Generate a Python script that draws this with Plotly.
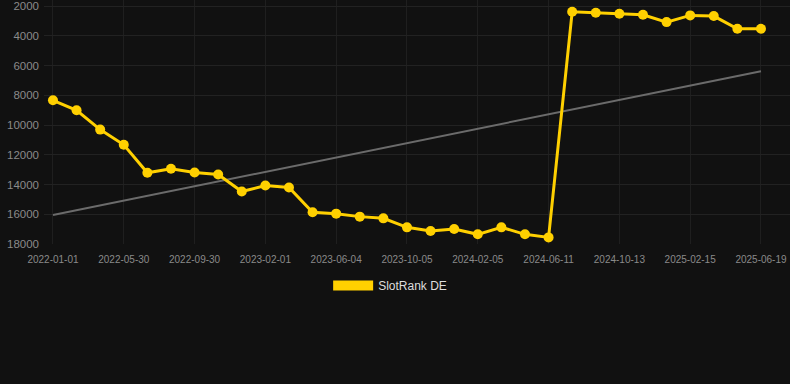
import plotly.graph_objects as go

# Data
idx = list(range(31))
rank_de = [8340, 9010, 10310, 11330, 13210, 12940, 13190, 13330, 14475, 14070,
           14200, 15870, 15960, 16160, 16275, 16880, 17125, 16990, 17350, 16880,
           17350, 17555, 2385, 2450, 2520, 2585, 3080, 2630, 2675, 3530, 3530]
trend_x = [0, 30]
trend_y = [16050, 6380]
tick_pos = [0, 3, 6, 9, 12, 15, 18, 21, 24, 27, 30]
tick_labels = ["2022-01-01", "2022-05-30", "2022-09-30", "2023-02-01", "2023-06-04",
               "2023-10-05", "2024-02-05", "2024-06-11", "2024-10-13", "2025-02-15",
               "2025-06-19"]
y_ticks = [2000, 4000, 6000, 8000, 10000, 12000, 14000, 16000, 18000]

GOLD = "#FFD000"
FONT = "Liberation Sans, Arial, sans-serif"

fig = go.Figure()
fig.add_trace(go.Scatter(x=trend_x, y=trend_y, mode="lines",
                         line=dict(color="#6b6b6b", width=2),
                         showlegend=False, hoverinfo="skip"))
fig.add_trace(go.Scatter(x=idx, y=rank_de, mode="lines+markers",
                         line=dict(color=GOLD, width=3),
                         marker=dict(color=GOLD, size=10),
                         showlegend=False, name="SlotRank DE"))
fig.add_trace(go.Scatter(x=[None], y=[None], mode="lines",
                         line=dict(color=GOLD, width=11),
                         name="SlotRank DE", showlegend=True))

fig.update_layout(
    width=790, height=384,
    paper_bgcolor="#111111", plot_bgcolor="#111111",
    margin=dict(l=44, r=0, t=0, b=140),
    font=dict(family=FONT, color="#8a8a8a"),
    legend=dict(orientation="h", x=0.464, xanchor="center", y=-0.17, yanchor="middle",
                font=dict(size=12, color="#dddddd", family=FONT),
                itemwidth=40, bgcolor="rgba(0,0,0,0)"),
    xaxis=dict(range=[-0.38, 31.23], tickmode="array", tickvals=tick_pos,
               ticktext=tick_labels, showgrid=True, gridcolor="#1f1f1f",
               zeroline=False, showline=False, ticks="", ticklabelstandoff=8,
               tickfont=dict(size=10, color="#8a8a8a")),
    yaxis=dict(range=[18000, 1595], tickmode="array", tickvals=y_ticks,
               tickformat="d",
               showgrid=True, gridcolor="#222222", zeroline=False,
               showline=False, ticks="", ticklabelstandoff=4,
               tickfont=dict(size=11.5, color="#8a8a8a")),
)
fig.write_html("out.html", config={"displayModeBar": False},
               post_script="document.body.style.margin='0';document.body.style.background='#111111';")
